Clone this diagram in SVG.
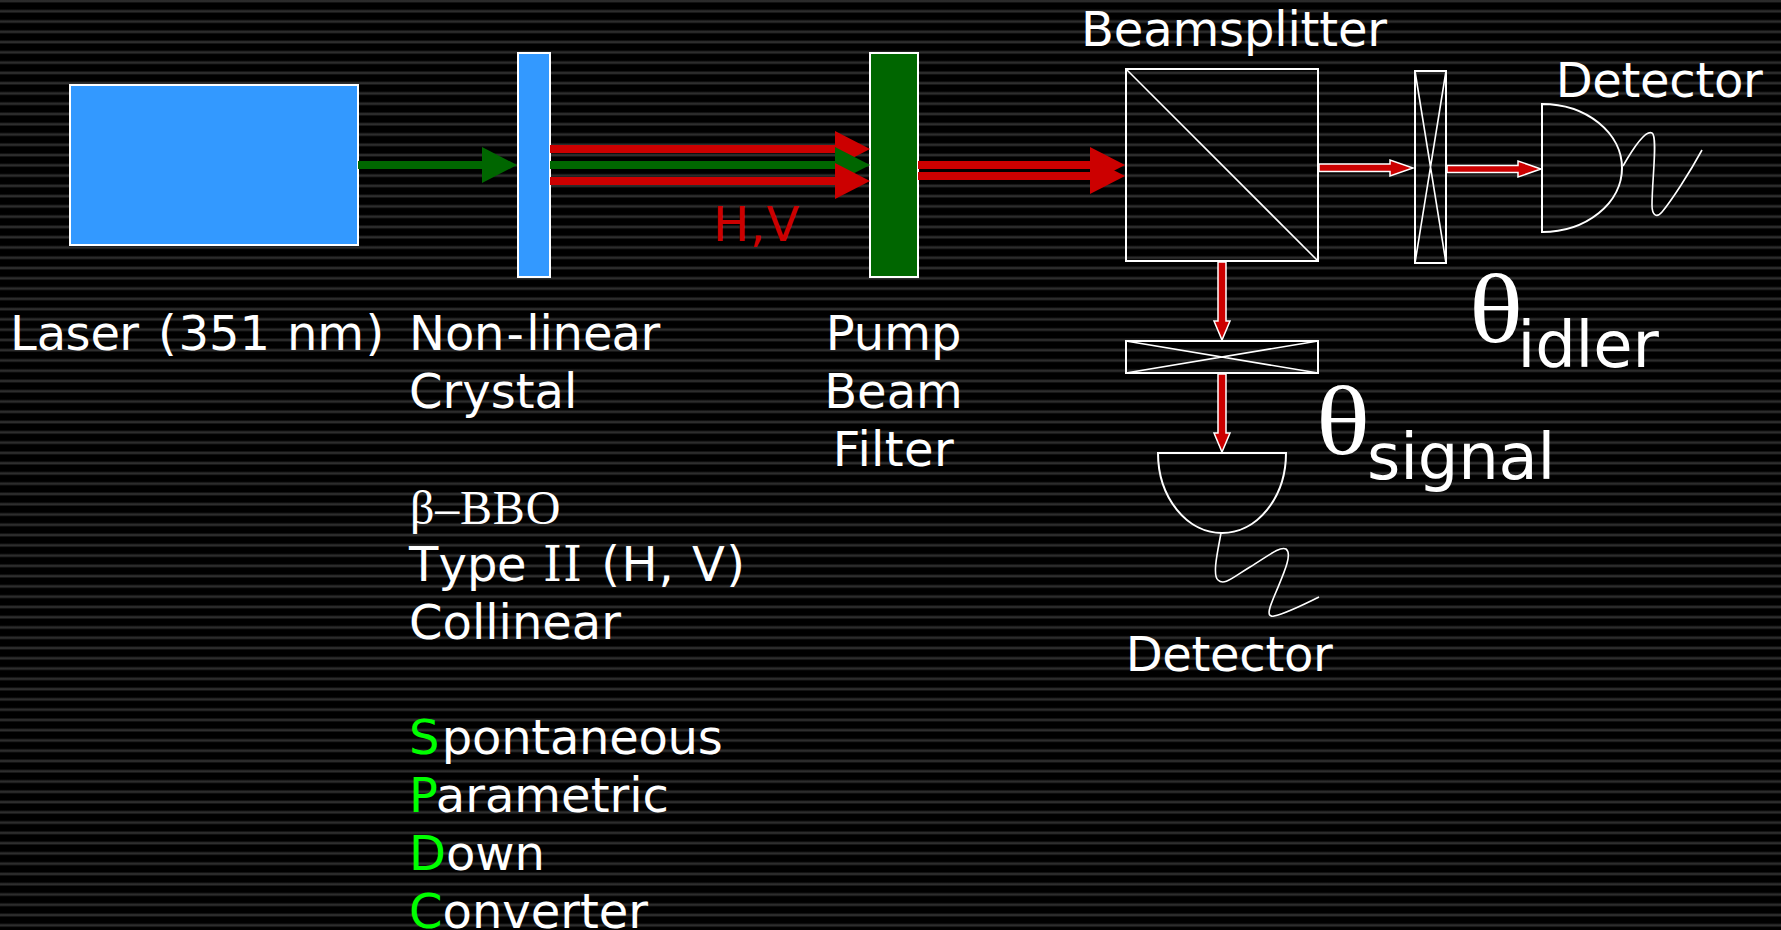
<svg xmlns="http://www.w3.org/2000/svg" width="1781" height="930" viewBox="0 0 1781 930">
<style>
text{font-family:"DejaVu Sans","Liberation Sans",sans-serif;font-size:48px;fill:#fff}
.box{fill:none;stroke:#fff;stroke-width:2}
.thin{fill:none;stroke:#fff;stroke-width:1.6}
.blue{fill:#39f;stroke:#fff;stroke-width:2}
.filt{fill:#060;stroke:#fff;stroke-width:2}
.gl{fill:#0f0}
.red{fill:#c00}
.sr{font-family:"Liberation Serif",serif}
.dsr{font-family:"DejaVu Serif",serif}
.th{font-family:"Liberation Serif",serif;font-size:98px}
.sub{font-size:64px}
.ln{fill:none;stroke-width:8}
.lr{stroke:#c00}.lg{stroke:#060}
.o{fill:#c00;stroke:#fff;stroke-width:1.5}
</style>
<defs>
<linearGradient id="st" x1="0" y1="0" x2="0" y2="1"><stop offset="0" stop-color="#000"/><stop offset="0.5" stop-color="#383838"/><stop offset="1" stop-color="#000"/></linearGradient>
<pattern id="bg" width="20" height="10.27" patternUnits="userSpaceOnUse"><rect width="20" height="10.27" fill="#000"/><rect y="-1.2" width="20" height="4.4" fill="url(#st)"/><rect y="9.07" width="20" height="4.4" fill="url(#st)"/></pattern>
<marker id="hg" markerUnits="userSpaceOnUse" markerWidth="36" markerHeight="36" refX="0" refY="18" orient="auto"><polygon points="0,0 35,18 0,36" fill="#060"/></marker>
<marker id="hr" markerUnits="userSpaceOnUse" markerWidth="36" markerHeight="36" refX="0" refY="18" orient="auto"><polygon points="0,0 35,18 0,36" fill="#c00"/></marker>
</defs>
<rect id="background" width="1781" height="930" fill="url(#bg)"/>

<g id="laser"><rect class="blue" x="70" y="85" width="288" height="160"/><text x="10 36.7 65.6 90.6 119.2 139.7 158 178.4 208.9 239.4 270 286.9 317.3 365.5" y="350">Laser (351 nm)</text></g>
<g id="crystal"><rect class="blue" x="518" y="53" width="32" height="224"/>
<text x="409 444.9 474 506.5 526.2 539.4 552.5 582.9 611.5 640.4" y="350">Non-linear</text><text x="409" y="408">Crystal</text>
<text class="sr" x="410" y="524" letter-spacing="0.8">β–BBO</text>
<text x="409 438.6 467 497 525.6" y="581">Type <tspan class="dsr" x="543 563">II</tspan><tspan x="582.9 601.3 621.6 658.6 675 692 726.3"> (H, V)</tspan></text><text x="409" y="639">Collinear</text>
<text x="409" y="754"><tspan class="gl">S</tspan><tspan x="441.8" letter-spacing="-0.25">pontaneous</tspan></text>
<text x="409" y="812"><tspan class="gl">P</tspan>arametric</text>
<text x="409" y="869.5"><tspan class="gl">D</tspan>own</text>
<text x="409" y="927.5"><tspan class="gl">C</tspan>onverter</text></g>
<g id="pump-filter"><rect class="filt" x="870" y="53" width="48" height="224"/>
<g text-anchor="middle"><text x="893.5" y="350">Pump</text><text x="893.5" y="408">Beam</text><text x="893.5" y="466" letter-spacing="0.4">Filter</text></g></g>
<g id="beamsplitter"><rect class="box" x="1126" y="69" width="192" height="192"/><path class="thin" d="M1126,69 L1318,261"/><text x="1081" y="46" letter-spacing="-0.15">Beamsplitter</text></g>
<g id="polarizer-idler"><rect class="box" x="1415" y="71" width="31" height="192"/><path class="thin" d="M1415,71 L1446,263 M1446,71 L1415,263"/>
<text class="th" x="1469" y="342" textLength="54" lengthAdjust="spacingAndGlyphs">θ</text><text class="sub" x="1517.5" y="367" letter-spacing="-0.15">idler</text></g>
<g id="polarizer-signal"><rect class="box" x="1126" y="341" width="192" height="32"/><path class="thin" d="M1126,341 L1318,373 M1318,341 L1126,373"/>
<text class="th" x="1316" y="454" textLength="54" lengthAdjust="spacingAndGlyphs">θ</text><text class="sub" x="1367" y="479" letter-spacing="-0.2">signal</text></g>
<g id="detector-idler"><path class="box" d="M1542,104 A80,64 0 0 1 1542,232 Z"/><path class="thin" d="M1623,166 C1635,145 1646,130 1652,133 C1658,136 1652,180 1652,205 C1652,216 1657,218 1662,212 C1672,200 1690,172 1702,150"/><text x="1555.7" y="97" letter-spacing="-0.3">Detector</text></g>
<g id="detector-signal"><path class="box" d="M1158,453 A64,80 0 0 0 1286,453 Z"/><path class="thin" d="M1221,533 C1218,550 1212,575 1218,580 C1224,586 1232,578 1250,567 C1268,556 1280,546 1286,549 C1293,554 1283,575 1276,592 C1270,606 1265,618 1274,616 C1284,614 1303,605 1319,597"/><text x="1125.7" y="670.5" letter-spacing="-0.3">Detector</text></g>
<text id="hv" class="red" x="713 750 766.5" y="241">H,V</text>

<g id="connectors">
<line class="ln lg" x1="358" y1="165" x2="482" y2="165" marker-end="url(#hg)"/>
<line class="ln lr" x1="550" y1="149" x2="835" y2="149" marker-end="url(#hr)"/>
<line class="ln lg" x1="550" y1="165" x2="835" y2="165" marker-end="url(#hg)"/>
<line class="ln lr" x1="550" y1="181" x2="835" y2="181" marker-end="url(#hr)"/>
<line class="ln lr" x1="918" y1="165" x2="1090" y2="165" marker-end="url(#hr)"/>
<line class="ln lr" x1="918" y1="176" x2="1090" y2="176" marker-end="url(#hr)"/>
<polygon class="o" points="1319,164 1390,164 1390,160 1413,168 1390,176 1390,171.5 1319,171.5"/>
<polygon class="o" points="1447,165.5 1518,165.5 1518,161 1541,169 1518,177 1518,172.5 1447,172.5"/>
<polygon class="o" points="1218,262 1226,262 1226,321 1230,321 1222,340 1214,321 1218,321"/>
<polygon class="o" points="1218,374 1226,374 1226,433 1230,433 1222,452 1214,433 1218,433"/>
</g>
</svg>
